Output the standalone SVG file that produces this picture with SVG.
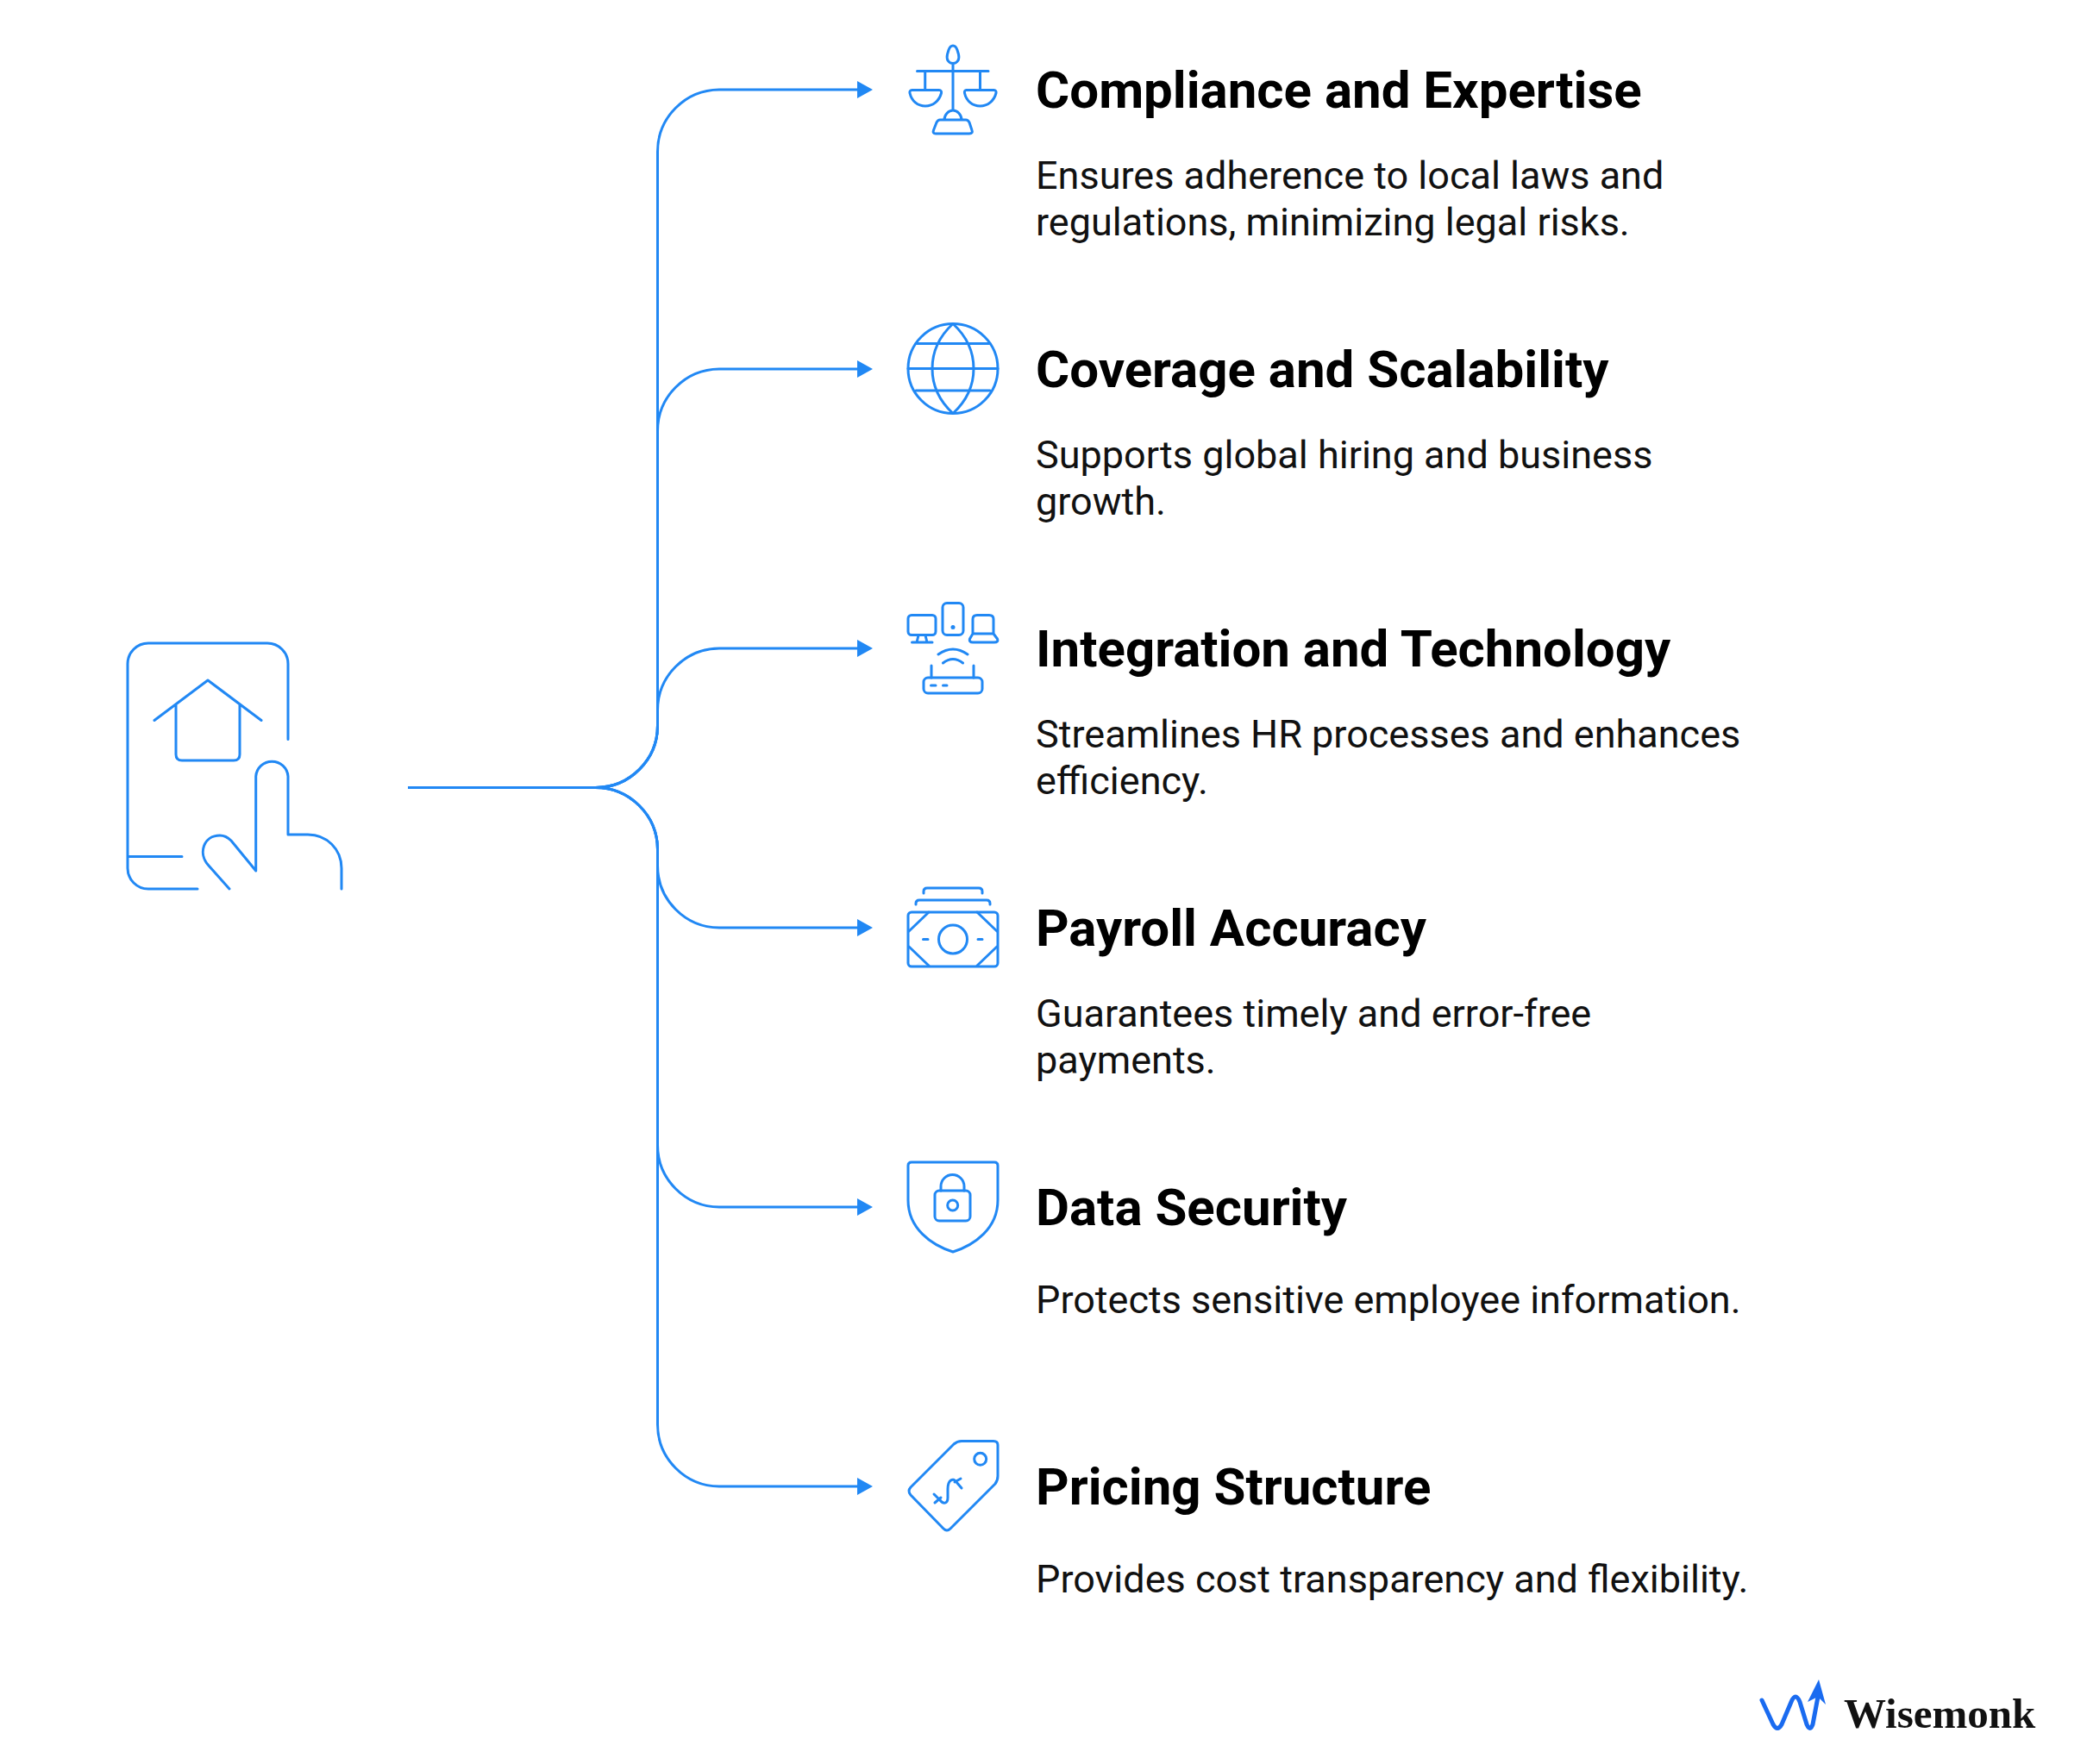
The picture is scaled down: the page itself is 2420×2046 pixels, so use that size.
<svg xmlns="http://www.w3.org/2000/svg" width="2420" height="2046" viewBox="0 0 2420 2046">
<style>
.l{fill:none;stroke:#2188F4;stroke-width:3;stroke-linecap:round;stroke-linejoin:round}
.c{fill:none;stroke:#2188F4;stroke-width:3}
.f{fill:#2188F4;stroke:none}
.t{font-family:Roboto,"Liberation Sans",sans-serif;font-weight:700;font-size:60px;fill:#000}
.b{font-family:Roboto,"Liberation Sans",sans-serif;font-size:45px;fill:#111}
</style>
<defs><marker id="a" markerUnits="userSpaceOnUse" markerWidth="22" markerHeight="24" refX="1" refY="12" orient="auto"><path d="M1 2L19 12L1 22Z" fill="#2188F4"/></marker></defs>
<rect width="2420" height="2046" fill="#fff"/>
<g id="connectors">
<path class="c" d="M473 913.500H690"/>
<path class="c" marker-end="url(#a)" d="M690 913.500A72 72 0 0 0 762.500 841V176A72 72 0 0 1 834 104H994"/>
<path class="c" marker-end="url(#a)" d="M690 913.500A72 72 0 0 0 762.500 841V500A72 72 0 0 1 834 428H994"/>
<path class="c" marker-end="url(#a)" d="M690 913.500A72 72 0 0 0 762.500 841V824A72 72 0 0 1 834 752H994"/>
<path class="c" marker-end="url(#a)" d="M690 913.500A72 72 0 0 1 762.500 985V1004A72 72 0 0 0 834 1076H994"/>
<path class="c" marker-end="url(#a)" d="M690 913.500A72 72 0 0 1 762.500 985V1328A72 72 0 0 0 834 1400H994"/>
<path class="c" marker-end="url(#a)" d="M690 913.500A72 72 0 0 1 762.500 985V1652A72 72 0 0 0 834 1724H994"/>
</g>
<g id="source">
<path class="l" d="M334 857.500V770A24 24 0 0 0 310 746H172A24 24 0 0 0 148 770V1007A24 24 0 0 0 172 1031H229M148 993.500H211"/>
<path class="l" d="M179 835.500L241 789L303 835.500M204 817V875Q204 882 211 882H271Q278 882 278 875V817"/>
<path class="l" d="M266 1031L242 1004C229 990 236 969 255 969C261 969 265 972 268 975L296.700 1010V900.500A18.700 18.700 0 0 1 334 900.500V968H357C379 968 396 985 396 1007V1031"/>
</g>
<g id="n1">
<path class="l" d="M1105 53C1102.500 53 1101 55 1100 58L1098.500 63C1097 69 1100 73.500 1105 73.500C1110 73.500 1113 69 1111.500 63L1110 58C1109 55 1107.500 53 1105 53ZM1063.500 82.500H1146M1105 73.500V128M1072.700 82.500V104M1136.500 82.500V104M1057.500 104.500H1089C1091 104.500 1092 106 1091.500 108C1089 117 1082 123 1073 123C1064 123 1057 117 1055 108C1054.500 106 1055.500 104.500 1057.500 104.500ZM1120.500 104.500H1152.500C1154.500 104.500 1155.500 106 1155 108C1152.500 117 1145.500 123 1136.500 123C1127.500 123 1120.500 117 1118.500 108C1118 106 1119 104.500 1120.500 104.500ZM1095 139C1095 133 1100 128 1105 128C1110 128 1115 133 1115 139M1090 139H1120C1122 139 1123 140 1124 142L1127 151C1128 153.500 1127 155 1124 155H1085C1082.500 155 1081.500 153.500 1082.500 151L1086 142C1087 140 1088 139 1090 139Z"/>
<text class="t" x="1201" y="125">Compliance and Expertise</text>
<text class="b" x="1201" y="219">Ensures adherence to local laws and</text>
<text class="b" x="1201" y="273">regulations, minimizing legal risks.</text>
</g>
<g id="n2">
<circle class="l" cx="1105" cy="427.500" r="52"/>
<path class="l" d="M1053 427.500H1157M1062 398.500H1148M1062 453H1148M1105 375.500C1073 405 1073 450 1105 479.500C1137 450 1137 405 1105 375.500Z"/>
<text class="t" x="1201" y="449">Coverage and Scalability</text>
<text class="b" x="1201" y="543">Supports global hiring and business</text>
<text class="b" x="1201" y="597">growth.</text>
</g>
<g id="n3">
<rect class="l" x="1053" y="713.500" width="32" height="23" rx="4"/>
<rect class="l" x="1093" y="699.500" width="24" height="37" rx="5"/>
<circle class="f" cx="1105" cy="727.500" r="2.500"/>
<path class="l" d="M1065 737L1063 745M1073 737L1075 745M1057.500 745H1081M1128 735V718Q1128 713.500 1133 713.500H1147Q1152 713.500 1152 718V735M1128 735L1124.500 741Q1123.500 745 1128 745H1153Q1158 745 1156.500 741L1152 735ZM1088 759Q1105 747 1122 759M1093.500 769Q1105 760 1116.500 769M1080 772V786M1129 772V786M1079.500 795H1085M1093.500 795H1098"/>
<rect class="l" x="1071" y="786" width="68" height="18" rx="5"/>
<text class="t" x="1201" y="773">Integration and Technology</text>
<text class="b" x="1201" y="867">Streamlines HR processes and enhances</text>
<text class="b" x="1201" y="921">efficiency.</text>
</g>
<g id="n4">
<rect class="l" x="1053" y="1058" width="104" height="63" rx="4"/>
<circle class="l" cx="1105" cy="1089.500" r="16.500"/>
<path class="l" d="M1071 1036V1034Q1071 1030 1075 1030H1135Q1139 1030 1139 1034V1036M1062 1049V1048Q1062 1044 1066 1044H1144Q1148 1044 1148 1048V1049M1077 1058L1054 1080M1133 1058L1156 1080M1054 1098L1077 1120M1156 1098L1133 1120M1070.500 1089.500H1076M1134 1089.500H1139"/>
<text class="t" x="1201" y="1097">Payroll Accuracy</text>
<text class="b" x="1201" y="1191">Guarantees timely and error-free</text>
<text class="b" x="1201" y="1245">payments.</text>
</g>
<g id="n5">
<path class="l" d="M1057 1348H1153Q1157 1348 1157 1352V1392C1157 1425 1130 1444 1105 1452C1080 1444 1053 1425 1053 1392V1352Q1053 1348 1057 1348Z"/>
<rect class="l" x="1084" y="1381" width="41" height="35" rx="5"/>
<path class="l" d="M1091 1381V1376A13.500 13.500 0 0 1 1118 1376V1381"/>
<circle class="l" cx="1104.700" cy="1398" r="6"/>
<text class="t" x="1201" y="1421">Data Security</text>
<text class="b" x="1201" y="1523">Protects sensitive employee information.</text>
</g>
<g id="n6">
<path class="l" d="M1056 1725L1106 1675Q1110 1671.500 1115 1671.500H1152Q1157 1671.500 1157 1676V1712Q1157 1717 1154 1721L1102 1773Q1098 1777 1094 1773L1056 1734Q1052 1729.500 1056 1725Z"/>
<circle class="l" cx="1136.700" cy="1692.300" r="7"/>
<path class="l" d="M1083 1733L1090 1740C1095 1746 1099 1743 1099 1737V1727C1099 1717 1105 1713 1109 1719L1115 1726M1084 1743L1091 1737M1107 1719L1114 1715"/>
<text class="t" x="1201" y="1745">Pricing Structure</text>
<text class="b" x="1201" y="1847">Provides cost transparency and flexibility.</text>
</g>
<g id="logo">
<path fill="none" stroke="#1A6BF0" stroke-width="5" stroke-linecap="round" stroke-linejoin="round" d="M2043 1972L2056 2000Q2061 2009 2066 2000L2077 1974Q2082 1962 2087 1974L2095 2000Q2099 2009 2102 2000L2108 1968"/>
<path fill="#1A6BF0" d="M2109 1948L2117 1977L2108 1968L2096 1974Z"/>
<text x="2138" y="2004" font-family="'Liberation Serif',serif" font-weight="700" font-size="49" fill="#111">Wisemonk</text>
</g>
</svg>
